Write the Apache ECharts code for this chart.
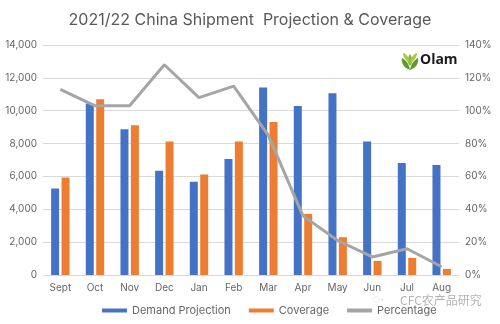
<!DOCTYPE html>
<html>
<head>
<meta charset="utf-8">
<script src="https://cdn.jsdelivr.net/npm/echarts@6/dist/echarts.min.js"></script>
<style>
  html, body { margin: 0; padding: 0; background: #fff; }
  #chart { width: 500px; height: 324px; }
</style>
</head>
<body>
<div id="chart"></div>
<script>
// Months of the 2021/22 shipment season
const months = ['Sept', 'Oct', 'Nov', 'Dec', 'Jan', 'Feb', 'Mar', 'Apr', 'May', 'Jun', 'Jul', 'Aug'];
// Demand projection (tonnes)
const demandProjection = [5270, 10440, 8870, 6350, 5680, 7060, 11420, 10280, 11070, 8120, 6820, 6700];
// Coverage (tonnes)
const coverage = [5940, 10700, 9120, 8120, 6120, 8120, 9320, 3720, 2300, 860, 1040, 370];
// Coverage as a share of demand (%)
const percentage = [113, 103, 103, 128, 108, 115, 85, 36, 21, 11, 16, 5];

const leftTicks = { min: 0, max: 14000, interval: 2000 };
const rightTicks = { min: 0, max: 140, interval: 20 };

const textGrey = '#666666';
const font = 'Inter, "Open Sans", "Noto Sans", sans-serif';

// Leaf mark used next to the Olam wordmark
const leafSvg =
  '<svg xmlns="http://www.w3.org/2000/svg" width="18" height="18" viewBox="0 0 18 18">' +
  '<path d="M9 18 C3 16 0 11 1 6 C5 8 8 12 9 18 Z" fill="#5E9A2E"/>' +
  '<path d="M9 18 C15 16 18 11 17 6 C13 8 10 12 9 18 Z" fill="#5E9A2E"/>' +
  '<path d="M9 14 C6 11 6 6 9 2 C12 6 12 11 9 14 Z" fill="#86B63A"/>' +
  '<path d="M9 11 C5 9 2 5 2 1 C6 2 8 6 9 11 Z" fill="#A6C846"/>' +
  '<path d="M9 11 C13 9 16 5 16 1 C12 2 10 6 9 11 Z" fill="#A6C846"/>' +
  '</svg>';
const leafImage = 'data:image/svg+xml;charset=utf-8,' + encodeURIComponent(leafSvg);

const chart = echarts.init(document.getElementById('chart'), null, { renderer: 'canvas' });

chart.setOption({
  animation: false,
  backgroundColor: '#ffffff',
  textStyle: { fontFamily: font },
  title: {
    text: '2021/22 China Shipment  Projection & Coverage',
    left: 'center',
    top: 7,
    textStyle: { color: '#595959', fontSize: 16, fontWeight: 'normal', fontFamily: font }
  },
  legend: {
    bottom: 3,
    left: 97,
    itemGap: 18,
    itemWidth: 25,
    itemHeight: 4,
    textStyle: { color: textGrey, fontSize: 11, fontFamily: font },
    data: [
      { name: 'Demand Projection', icon: 'rect' },
      { name: 'Coverage', icon: 'rect' },
      { name: 'Percentage', icon: 'rect' }
    ]
  },
  grid: { left: 43, right: 41, top: 45, bottom: 49 },
  xAxis: {
    type: 'category',
    data: months,
    axisLine: { lineStyle: { color: '#D9D9D9' } },
    axisTick: { show: false },
    axisLabel: { color: textGrey, fontSize: 10, margin: 8 }
  },
  yAxis: [
    {
      type: 'value',
      min: leftTicks.min, max: leftTicks.max, interval: leftTicks.interval,
      axisLine: { show: false },
      axisTick: { show: false },
      splitLine: { lineStyle: { color: '#D9D9D9' } },
      axisLabel: {
        color: textGrey, fontSize: 10, margin: 6,
        formatter: v => v.toLocaleString('en-US')
      }
    },
    {
      type: 'value',
      min: rightTicks.min, max: rightTicks.max, interval: rightTicks.interval,
      axisLine: { show: false },
      axisTick: { show: false },
      splitLine: { show: false },
      axisLabel: { color: textGrey, fontSize: 10, margin: 6, formatter: '{value}%' }
    }
  ],
  series: [
    {
      name: 'Demand Projection',
      type: 'bar',
      data: demandProjection,
      barWidth: 8,
      barGap: '30%',
      itemStyle: { color: '#4472C4' }
    },
    {
      name: 'Coverage',
      type: 'bar',
      data: coverage,
      barWidth: 8,
      barGap: '30%',
      itemStyle: { color: '#ED7D31' }
    },
    {
      name: 'Percentage',
      type: 'line',
      yAxisIndex: 1,
      data: percentage,
      symbol: 'none',
      lineStyle: { color: '#A5A5A5', width: 3 },
      itemStyle: { color: '#A5A5A5' }
    }
  ],
  graphic: [
    {
      type: 'image', left: 401, top: 52,
      style: { image: leafImage, width: 18, height: 18 }
    },
    {
      type: 'text', left: 420, top: 53,
      style: { text: 'Olam', fill: '#1a1a1a', font: 'bold 14px "Open Sans", sans-serif' }
    },
    // account watermark
    {
      type: 'text', left: 373, top: 294,
      style: { text: '◌·', fill: '#c8c8c8', font: '12px sans-serif' }
    },
    {
      type: 'text', left: 400, top: 294,
      style: { text: 'CFC农产品研究', fill: '#b4b4b4', font: '12px "Noto Sans CJK SC", sans-serif' }
    }
  ]
});
</script>
</body>
</html>
